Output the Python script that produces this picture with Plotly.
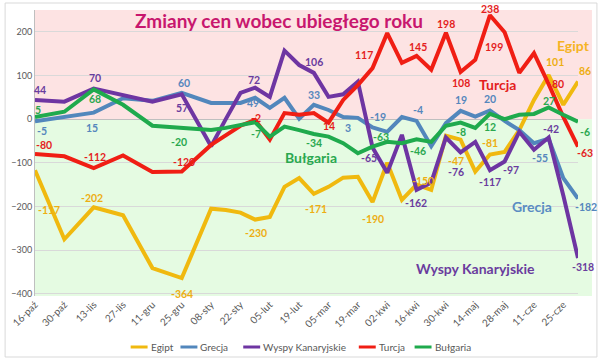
import plotly.graph_objects as go

# ---------------- data ----------------
dates = ["2014-10-16", "2014-10-30", "2014-11-13", "2014-11-27", "2014-12-11", "2014-12-25",
         "2015-01-08", "2015-01-15", "2015-01-22", "2015-01-29", "2015-02-05", "2015-02-12",
         "2015-02-19", "2015-02-26", "2015-03-05", "2015-03-12", "2015-03-19", "2015-03-26",
         "2015-04-02", "2015-04-09", "2015-04-16", "2015-04-23", "2015-04-30", "2015-05-07",
         "2015-05-14", "2015-05-21", "2015-05-28", "2015-06-04", "2015-06-11", "2015-06-18",
         "2015-06-25", "2015-07-02"]

egipt = [-117, -275, -202, -220, -341, -364, -205, -208, -214, -230, -224, -155, -135, -171, -155, -134,
         -132, -190, -100, -185, -150, -162, -38, -47, -120, -81, -75, -25, 44, 101, 33, 86]
grecja = [-5, 6, 15, 48, 42, 60, 37, 37, 37, 49, 26, 49, 1, 33, 21, 5,
          3, -19, -29, 5, -4, -62, -9, 19, 6, 20, -4, -25, -55, -45, -135, -182]
wyspy = [44, 40, 70, 56, 40, 57, -62, 0, 60, 72, 51, 157, 124, 106, 51, 57,
         86, -65, -123, -36, -162, -145, -42, -76, -52, -117, -97, -29, -70, -42, -175, -318]
turcja = [-80, -85, -112, -83, -121, -120, -59, -36, -15, -2, -47, 14, 10, 14, -8, 44,
          78, 117, 197, 129, 145, 113, 198, 108, 136, 238, 199, 106, 151, 80, 5, -63]
bulgaria = [5, 17, 68, 33, -15, -20, -25, -20, -13, -7, -40, -17, -25, -34, -40, -55,
            -78, -63, -52, -55, -46, -52, -15, -8, -20, 12, 0, 10, 12, 27, 10, -6]

tick_dates = ["2014-10-16", "2014-10-30", "2014-11-13", "2014-11-27", "2014-12-11", "2014-12-25",
              "2015-01-08", "2015-01-22", "2015-02-05", "2015-02-19", "2015-03-05", "2015-03-19",
              "2015-04-02", "2015-04-16", "2015-04-30", "2015-05-14", "2015-05-28", "2015-06-11",
              "2015-06-25"]
tick_labels = ["16-paź", "30-paź", "13-lis", "27-lis", "11-gru", "25-gru", "08-sty", "22-sty",
               "05-lut", "19-lut", "05-mar", "19-mar", "02-kwi", "16-kwi", "30-kwi", "14-maj",
               "28-maj", "11-cze", "25-cze"]

y_ticks = [-400, -300, -200, -100, 0, 100, 200]

# ---------------- styling ----------------
FONT = "Lato"
series = [
    ("Egipt", egipt, "#F0B90F", "#EDAE12"),
    ("Grecja", grecja, "#5287BC", "#5587BD"),
    ("Wyspy Kanaryjskie", wyspy, "#6E35A2", "#6A3C9E"),
    ("Turcja", turcja, "#F01E14", "#E41E1E"),
    ("Bułgaria", bulgaria, "#1FAA4D", "#2AA84F"),
]

# data label placement: series -> list of (point index, x offset px, y offset px)
label_spec = {
    "Egipt": [(0, 14, -40), (2, -2, 9), (5, 0, -16), (9, 1, -13), (13, 2, -15), (17, 0, -17),
              (20, 6, 4), (23, -5, -21), (25, 0, 12), (29, 6, 13), (31, 7, 11)],
    "Grecja": [(0, 7, -10), (2, -2, -15), (5, 2, 10), (9, -2, -5), (13, 0, 10), (16, -10, -10),
               (17, 5, 10), (20, 1, 11), (23, 0, 11), (25, 0, 11), (28, 6, -15), (31, 8, -8)],
    "Wyspy Kanaryjskie": [(0, 5, 10), (2, 1, 11), (5, 0, -14), (9, -1, 8), (13, 0, 11),
                          (17, -4, -10), (20, -1, -13), (23, -5, -20), (25, 0, -12),
                          (26, 6, -8), (29, 2, 9), (31, 5, -9)],
    "Turcja": [(0, 9, 9), (2, 1, 11), (5, 2, 10), (9, 1, 2), (13, 15, -13), (17, -9, 13),
               (20, 1, 9), (22, 0, 9), (23, 0, -11), (25, 0, 6), (26, -11, -15), (29, 9, 0),
               (31, 7, -6)],
    "Bułgaria": [(0, 3, 7), (2, 1, -10), (5, -3, -14), (9, 1, -12), (13, 0, -9), (17, 8, 10),
                 (20, 1, -12), (23, 0, -9), (25, 0, -13), (29, 0, 6), (31, 7, -10)],
}

# plot area in pixels
L, R, T, B = 33, 578, 10, 296
W, H = 600, 362


def px(x):
    return (x - L) / (R - L)


def py(y):
    return (B - y) / (B - T)


fig = go.Figure()
for name, vals, col, _ in series:
    fig.add_trace(go.Scatter(x=dates, y=vals, mode="lines", name=name,
                             line=dict(color=col, width=4), hoverinfo="skip", showlegend=False))

annotations = []
for name, vals, col, lcol in series:
    for i, dx, dy in label_spec[name]:
        annotations.append(dict(x=dates[i], y=vals[i], xref="x", yref="y", text=str(vals[i]),
                                showarrow=False, xshift=dx, yshift=dy,
                                font=dict(family=FONT, size=10.5, color=lcol, weight="bold")))

# series name tags
name_tags = [("Egipt", 573, 45, "#F5B324"), ("Turcja", 497, 85, "#E41E1E"),
             ("Grecja", 532, 207, "#5A8CC2"), ("Wyspy Kanaryjskie", 475, 268, "#6A3C9E"),
             ("Bułgaria", 310, 157, "#2AA84F")]
for t, x, y, c in name_tags:
    annotations.append(dict(x=px(x), y=py(y), xref="paper", yref="paper", text=t, showarrow=False,
                            xanchor="center", yanchor="middle",
                            font=dict(family=FONT, size=14, color=c, weight="bold")))

annotations.append(dict(x=px(278), y=py(20), xref="paper", yref="paper",
                        text="Zmiany cen wobec ubiegłego roku", showarrow=False,
                        xanchor="center", yanchor="middle",
                        font=dict(family=FONT, size=19, color="#C8176E", weight="bold")))

shapes = [
    dict(type="rect", xref="paper", yref="y", x0=0, x1=px(592), y0=0, y1=250,
         fillcolor="#FDE3E3", line=dict(width=0), layer="below"),
    dict(type="rect", xref="paper", yref="y", x0=0, x1=px(592), y0=-405, y1=0,
         fillcolor="#E5FBE2", line=dict(width=0), layer="below"),
    dict(type="rect", xref="paper", yref="paper", x0=px(3), x1=px(597), y0=py(357), y1=py(3),
         fillcolor="rgba(0,0,0,0)", line=dict(color="#D9D9D9", width=1), layer="below"),
]

# legend row (line sample + name), left edges of line samples in px
legend_x = [129, 179, 242, 358, 414]
LEG_Y = 347
for (name, vals, col, _), lx in zip(series, legend_x):
    shapes.append(dict(type="line", xref="paper", yref="paper", x0=px(lx), x1=px(lx + 17),
                       y0=py(LEG_Y), y1=py(LEG_Y), line=dict(color=col, width=3)))
    annotations.append(dict(x=px(lx + 18), y=py(LEG_Y), xref="paper", yref="paper", text=name,
                            showarrow=False, xanchor="left", yanchor="middle",
                            font=dict(family=FONT, size=10, color="#595959")))

fig.update_layout(
    width=W, height=H,
    margin=dict(l=L, r=W - R, t=T, b=H - B),
    paper_bgcolor="white", plot_bgcolor="rgba(0,0,0,0)",
    font=dict(family=FONT, color="#595959"),
    showlegend=False,
    annotations=annotations,
    shapes=shapes,
)
fig.update_xaxes(type="date", range=[dates[0], dates[-1]], tickmode="array",
                 tickvals=tick_dates, ticktext=tick_labels, tickangle=-45,
                 tickfont=dict(family=FONT, size=10, color="#595959"),
                 showgrid=False, zeroline=False, showline=False, ticks="")
fig.update_yaxes(range=[-405, 250], tickmode="array", tickvals=y_ticks,
                 tickfont=dict(family=FONT, size=9, color="#595959"),
                 showgrid=True, gridcolor="#D9D9D9", gridwidth=1,
                 zeroline=True, zerolinecolor="#BFBFBF", zerolinewidth=1,
                 showline=True, linecolor="#BFBFBF", ticks="")

fig.write_html("out.html", config={"displayModeBar": False},
               post_script="document.body.style.margin='0px';")
